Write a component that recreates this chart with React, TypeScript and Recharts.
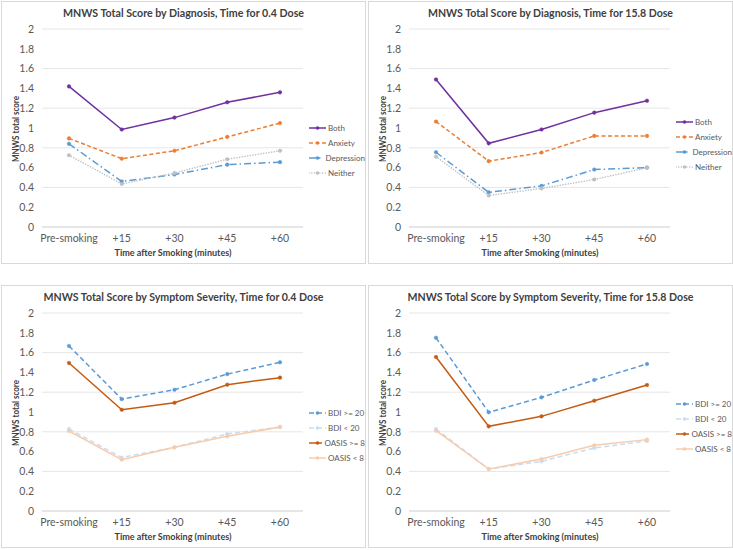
import { LineChart, Line, XAxis, YAxis, CartesianGrid, Legend } from "recharts";

const timepoints = ["Pre-smoking", "+15", "+30", "+45", "+60"];
const yTicks = [0, 0.2, 0.4, 0.6, 0.8, 1, 1.2, 1.4, 1.6, 1.8, 2];

// diagnosis, 0.4 dose
const lowBoth = [1.42, 0.985, 1.105, 1.26, 1.36];
const lowAnxiety = [0.895, 0.69, 0.77, 0.91, 1.05];
const lowDepression = [0.84, 0.46, 0.53, 0.63, 0.655];
const lowNeither = [0.725, 0.435, 0.545, 0.685, 0.77];

// diagnosis, 15.8 dose
const highBoth = [1.49, 0.845, 0.985, 1.155, 1.275];
const highAnxiety = [1.065, 0.665, 0.752, 0.92, 0.92];
const highDepression = [0.755, 0.35, 0.415, 0.58, 0.6];
const highNeither = [0.71, 0.318, 0.39, 0.48, 0.598];

// severity, 0.4 dose
const lowBdiHi = [1.667, 1.13, 1.225, 1.383, 1.502];
const lowBdiLo = [0.828, 0.54, 0.643, 0.778, 0.848];
const lowOasisHi = [1.495, 1.022, 1.093, 1.276, 1.347];
const lowOasisLo = [0.808, 0.518, 0.643, 0.754, 0.848];

// severity, 15.8 dose
const highBdiHi = [1.75, 0.997, 1.148, 1.323, 1.485];
const highBdiLo = [0.828, 0.424, 0.502, 0.636, 0.707];
const highOasisHi = [1.555, 0.855, 0.956, 1.114, 1.273];
const highOasisLo = [0.811, 0.424, 0.525, 0.663, 0.721];

type Series = { name: string; values: number[]; color: string; dash?: string; cap?: "round" | "butt" };

const FONT = "Lato, 'Open Sans', sans-serif";

const diagnosisStyle = (both: number[], anx: number[], dep: number[], nei: number[]): Series[] => [
  { name: "Both", values: both, color: "#7030A0" },
  { name: "Anxiety", values: anx, color: "#ED7D31", dash: "4 2.5" },
  { name: "Depression", values: dep, color: "#5B9BD5", dash: "7 3 1.5 3" },
  { name: "Neither", values: nei, color: "#BFBFBF", dash: "0.1 2.6", cap: "round" },
];

const severityStyle = (bh: number[], bl: number[], oh: number[], ol: number[]): Series[] => [
  { name: "BDI >= 20", values: bh, color: "#5B9BD5", dash: "5 3" },
  { name: "BDI < 20", values: bl, color: "#C9DDF1", dash: "5 3" },
  { name: "OASIS >= 8", values: oh, color: "#C55A11" },
  { name: "OASIS < 8", values: ol, color: "#F8CBAD" },
];

const W = 363;
const H = 261;

function Panel({
  title,
  titleWidth,
  series,
  legendTop,
  left,
  top,
}: {
  title: string;
  titleWidth: number;
  series: Series[];
  legendTop: number;
  left: number;
  top: number;
}) {
  const data = timepoints.map((t, i) => {
    const row: Record<string, string | number> = { time: t };
    series.forEach((s, k) => (row["s" + k] = s.values[i]));
    return row;
  });

  const renderLegend = () => (
    <div style={{ fontFamily: FONT, fontSize: 8, color: "#595959", whiteSpace: "nowrap" }}>
      {series.map((s) => (
        <div key={s.name} style={{ display: "flex", alignItems: "center", height: 15 }}>
          <svg width={17} height={8} style={{ marginRight: 2 }}>
            <line
              x1={0}
              y1={4}
              x2={17}
              y2={4}
              stroke={s.color}
              strokeWidth={1.5}
              strokeDasharray={s.dash}
              strokeLinecap={s.cap ?? "butt"}
            />
            <circle cx={8.5} cy={4} r={1.8} fill={s.color} />
          </svg>
          <span>{s.name}</span>
        </div>
      ))}
    </div>
  );

  return (
    <div
      style={{
        position: "absolute",
        left,
        top,
        width: W + 2,
        height: H + 2,
        boxSizing: "border-box",
        border: "1px solid #D9D9D9",
        background: "#fff",
      }}
    >
      <LineChart width={W} height={H} data={data} margin={{ top: 27, right: 62, left: 0, bottom: 6 }}>
        <CartesianGrid horizontal vertical={false} stroke="#E6E6E6" />
        <XAxis
          dataKey="time"
          height={30}
          padding={{ left: 27, right: 23 }}
          axisLine={{ stroke: "#D9D9D9" }}
          tickLine={false}
          tick={{ fontSize: 10.5, fill: "#595959", fontFamily: FONT }}
          interval={0}
        />
        <YAxis
          width={40}
          domain={[0, 2]}
          ticks={yTicks}
          axisLine={false}
          tickLine={false}
          tick={{ fontSize: 10.5, fill: "#595959", fontFamily: FONT }}
        />
        <Legend
          layout="horizontal"
          align="center"
          verticalAlign="middle"
          content={renderLegend}
          wrapperStyle={{ top: legendTop, left: 307, width: 56 }}
        />
        {series.map((s, k) => (
          <Line
            key={s.name}
            dataKey={"s" + k}
            name={s.name}
            stroke={s.color}
            strokeWidth={1.5}
            strokeDasharray={s.dash}
            strokeLinecap={s.cap ?? "butt"}
            dot={{ r: 1.8, fill: s.color, stroke: s.color, strokeWidth: 0.5, strokeDasharray: "" }}
            isAnimationActive={false}
          />
        ))}
      </LineChart>
      <svg
        width={W}
        height={H}
        style={{ position: "absolute", left: 0, top: 0, pointerEvents: "none" }}
      >
        <text
          x={W / 2}
          y={15}
          textAnchor="middle"
          fontFamily={FONT}
          fontWeight="bold"
          fontSize={12}
          fill="#404040"
          textLength={titleWidth}
          lengthAdjust="spacingAndGlyphs"
        >
          {title}
        </text>
        <text
          x={171}
          y={254}
          textAnchor="middle"
          fontFamily={FONT}
          fontWeight="bold"
          fontSize={10}
          fill="#404040"
          textLength={117}
          lengthAdjust="spacingAndGlyphs"
        >
          Time after Smoking (minutes)
        </text>
        <text
          transform="translate(17,127) rotate(-90)"
          textAnchor="middle"
          fontFamily={FONT}
          fontWeight="bold"
          fontSize={10}
          fill="#404040"
          textLength={66}
          lengthAdjust="spacingAndGlyphs"
        >
          MNWS total score
        </text>
      </svg>
    </div>
  );
}

export default function App() {
  return (
    <div style={{ position: "absolute", left: 0, top: 0, width: 733, height: 550, background: "#fff" }}>
      <Panel
        title="MNWS Total Score by Diagnosis, Time for 0.4 Dose"
        titleWidth={241}
        series={diagnosisStyle(lowBoth, lowAnxiety, lowDepression, lowNeither)}
        legendTop={118}
        left={1}
        top={1}
      />
      <Panel
        title="MNWS Total Score by Diagnosis, Time for 15.8 Dose"
        titleWidth={245}
        series={diagnosisStyle(highBoth, highAnxiety, highDepression, highNeither)}
        legendTop={112}
        left={368}
        top={1}
      />
      <Panel
        title="MNWS Total Score by Symptom Severity, Time for 0.4 Dose"
        titleWidth={280}
        series={severityStyle(lowBdiHi, lowBdiLo, lowOasisHi, lowOasisLo)}
        legendTop={119}
        left={1}
        top={285}
      />
      <Panel
        title="MNWS Total Score by Symptom Severity, Time for 15.8 Dose"
        titleWidth={286}
        series={severityStyle(highBdiHi, highBdiLo, highOasisHi, highOasisLo)}
        legendTop={110}
        left={368}
        top={285}
      />
    </div>
  );
}
